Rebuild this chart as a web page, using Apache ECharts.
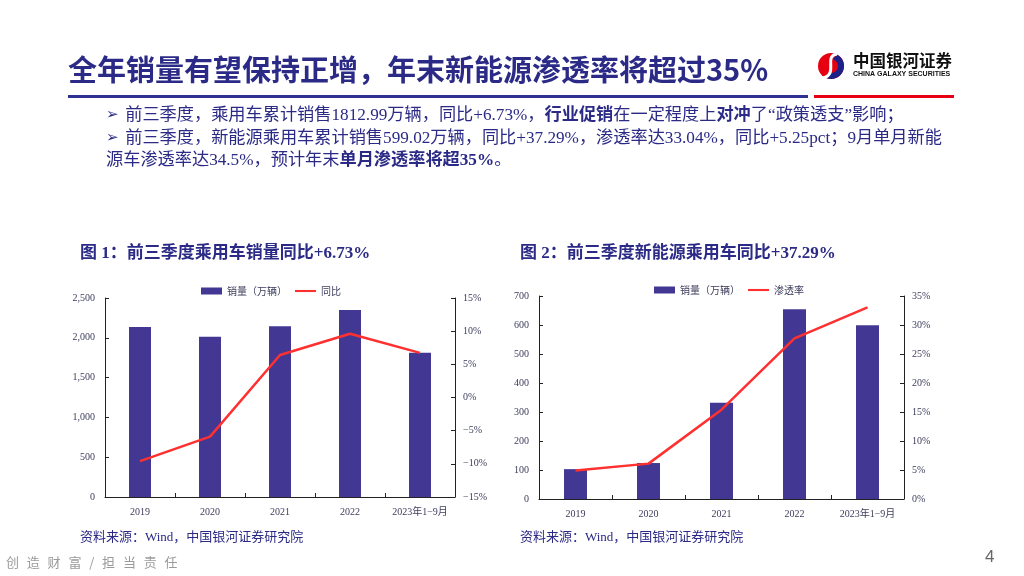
<!DOCTYPE html>
<html>
<head>
<meta charset="utf-8">
<script src="https://cdn.jsdelivr.net/npm/echarts@6/dist/echarts.min.js"></script>
<style>
html,body{margin:0;padding:0;background:#fff;}
#wrap{position:relative;width:1024px;height:576px;}
#main{width:1024px;height:576px;}
#footer{position:absolute;left:6px;top:552px;font:13px "Noto Sans CJK SC",sans-serif;color:#9a9a9a;letter-spacing:7.8px;white-space:nowrap;}
</style>
</head>
<body>
<div id="wrap">
<div id="main"></div>
<div id="footer">创造财富/担当责任</div>
</div>
<script>
// 图1 / 图2 数据
var years = ['2019', '2020', '2021', '2022', '2023年1−9月'];
var pvSales = [2136, 2013, 2145, 2349, 1812.99];      // 乘用车销量（万辆）
var pvYoy = [-9.6, -5.9, 6.4, 9.6, 6.73];             // 同比 %
var nevSales = [103, 124, 332, 654, 599.02];           // 新能源乘用车销量（万辆）
var nevRate = [4.9, 6.1, 15.4, 27.7, 33.04];           // 渗透率 %

var navy = '#2b2a86';
var barColor = '#433794';
var lineColor = '#ff3030';
var serif = '"Liberation Serif", "Noto Sans CJK SC", serif';
var cjk = '"Noto Sans CJK SC", sans-serif';

var myChart = echarts.init(document.getElementById('main'));

function pct(v) {
	return (v < 0 ? '−' + Math.abs(v) : v) + '%';
}
function thousands(v) {
	return String(v).replace(/\B(?=(\d{3})+(?!\d))/g, ',');
}

var axisLabel = {color: '#3c3c5c', fontFamily: serif, fontSize: 10};
var axisLine = {show: true, lineStyle: {color: '#222', width: 1}};
var axisTick = {show: true, inside: true, length: 4, lineStyle: {color: '#222'}};

var lineIcon = 'path://M0 0h30v3H0z';

var bodyRich = {
	n: {fontSize: 17.2, fontFamily: serif, fill: navy},
	b: {fontSize: 17.2, fontFamily: serif, fontWeight: 'bold', fill: navy},
	a: {fontSize: 15, fontFamily: '"DejaVu Sans", sans-serif', fill: navy}
};

var option = {
	animation: false,
	textStyle: {fontFamily: serif},
	grid: [
		{left: 105, right: 569, top: 298, bottom: 79},
		{left: 539, right: 120, top: 296, bottom: 77}
	],
	legend: [
		{
			left: 196, top: 281, itemWidth: 21, itemHeight: 7, itemGap: 8,
			textStyle: {fontSize: 10, color: '#3c3c5c', fontFamily: cjk},
			data: [{name: '销量（万辆）', icon: 'rect'}, {name: '同比', icon: lineIcon}]
		},
		{
			left: 649, top: 280, itemWidth: 21, itemHeight: 7, itemGap: 8,
			textStyle: {fontSize: 10, color: '#3c3c5c', fontFamily: cjk},
			data: [{name: '销量（万辆）', icon: 'rect'}, {name: '渗透率', icon: lineIcon}]
		}
	],
	xAxis: [
		{
			type: 'category', gridIndex: 0, data: years,
			axisLine: axisLine, axisTick: axisTick,
			axisLabel: {color: '#3c3c5c', fontFamily: serif, fontSize: 10, margin: 10, interval: 0}
		},
		{
			type: 'category', gridIndex: 1, data: years,
			axisLine: axisLine, axisTick: axisTick,
			axisLabel: {color: '#3c3c5c', fontFamily: serif, fontSize: 10, margin: 10, interval: 0}
		}
	],
	yAxis: [
		{
			type: 'value', gridIndex: 0, min: 0, max: 2500, interval: 500,
			axisLine: axisLine, axisTick: axisTick, splitLine: {show: false},
			axisLabel: Object.assign({formatter: thousands, margin: 10}, axisLabel)
		},
		{
			type: 'value', gridIndex: 0, min: -15, max: 15, interval: 5,
			axisLine: axisLine, axisTick: axisTick, splitLine: {show: false},
			axisLabel: Object.assign({formatter: pct, margin: 8}, axisLabel)
		},
		{
			type: 'value', gridIndex: 1, min: 0, max: 700, interval: 100,
			axisLine: axisLine, axisTick: axisTick, splitLine: {show: false},
			axisLabel: Object.assign({margin: 10}, axisLabel)
		},
		{
			type: 'value', gridIndex: 1, min: 0, max: 35, interval: 5,
			axisLine: axisLine, axisTick: axisTick, splitLine: {show: false},
			axisLabel: Object.assign({formatter: pct, margin: 8}, axisLabel)
		}
	],
	series: [
		{
			name: '销量（万辆）', type: 'bar', xAxisIndex: 0, yAxisIndex: 0,
			data: pvSales, barWidth: 22, itemStyle: {color: barColor}
		},
		{
			name: '同比', type: 'line', xAxisIndex: 0, yAxisIndex: 1,
			data: pvYoy, symbol: 'none', lineStyle: {color: lineColor, width: 2.5},
			itemStyle: {color: lineColor}
		},
		{
			name: '销量（万辆）', type: 'bar', xAxisIndex: 1, yAxisIndex: 2,
			data: nevSales, barWidth: 23, itemStyle: {color: barColor}
		},
		{
			name: '渗透率', type: 'line', xAxisIndex: 1, yAxisIndex: 3,
			data: nevRate, symbol: 'none', lineStyle: {color: lineColor, width: 2.5},
			itemStyle: {color: lineColor}
		}
	],
	graphic: [
		// 标题
		{
			type: 'text', left: 68, top: 55,
			style: {
				text: '全年销量有望保持正增，年末新能源渗透率将超过35%',
				font: 'bold 29px "Noto Sans CJK SC", sans-serif', fill: navy
			}
		},
		{type: 'rect', left: 68, top: 95, shape: {width: 740, height: 3}, style: {fill: '#2e3192'}},
		{type: 'rect', left: 814, top: 95, shape: {width: 140, height: 3}, style: {fill: '#e60012'}},
		// logo
		{type: 'circle', shape: {cx: 831, cy: 66, r: 13}, style: {fill: '#e60012'}},
		{type: 'arc', shape: {cx: 831, cy: 66, r: 10, startAngle: -1.2, endAngle: 1.9}, style: {stroke: '#1d2088', lineWidth: 6, fill: null}},
		{type: 'bezierCurve', shape: {x1: 837, y1: 54, cpx1: 823, cpy1: 56, cpx2: 839, cpy2: 74, x2: 823, y2: 78}, style: {stroke: '#ffffff', lineWidth: 3, fill: null}},
		{
			type: 'text', left: 853, top: 52,
			style: {text: '中国银河证券', font: 'bold 16.5px "Noto Sans CJK SC", sans-serif', fill: '#111'}
		},
		{
			type: 'text', left: 853, top: 71,
			style: {text: 'CHINA GALAXY SECURITIES', font: 'bold 7px "Liberation Sans", sans-serif', fill: '#111'}
		},
		// 要点
		{
			type: 'text', left: 106, top: 107,
			style: {
				text: '{a|➢}  {n|前三季度，乘用车累计销售1812.99万辆，同比+6.73%，}{b|行业促销}{n|在一定程度上}{b|对冲}{n|了“政策透支”影响；}',
				rich: bodyRich
			}
		},
		{
			type: 'text', left: 106, top: 130,
			style: {
				text: '{a|➢}  {n|前三季度，新能源乘用车累计销售599.02万辆，同比+37.29%，渗透率达33.04%，同比+5.25pct；9月单月新能}',
				rich: bodyRich
			}
		},
		{
			type: 'text', left: 106, top: 152,
			style: {
				text: '{n|源车渗透率达34.5%，预计年末}{b|单月渗透率将超35%}{n|。}',
				rich: bodyRich
			}
		},
		// 图标题
		{
			type: 'text', left: 80, top: 245,
			style: {text: '图 1：前三季度乘用车销量同比+6.73%', font: 'bold 17px ' + serif, fill: navy}
		},
		{
			type: 'text', left: 520, top: 245,
			style: {text: '图 2：前三季度新能源乘用车同比+37.29%', font: 'bold 17px ' + serif, fill: navy}
		},
		// 资料来源
		{
			type: 'text', left: 80, top: 531,
			style: {text: '资料来源：Wind，中国银河证券研究院', font: '13px ' + serif, fill: navy}
		},
		{
			type: 'text', left: 520, top: 531,
			style: {text: '资料来源：Wind，中国银河证券研究院', font: '13px ' + serif, fill: navy}
		},
		// 页码
		{
			type: 'text', left: 985, top: 549,
			style: {text: '4', font: '17px "Liberation Sans", sans-serif', fill: '#666'}
		}
	]
};
myChart.setOption(option);
</script>
</body>
</html>
